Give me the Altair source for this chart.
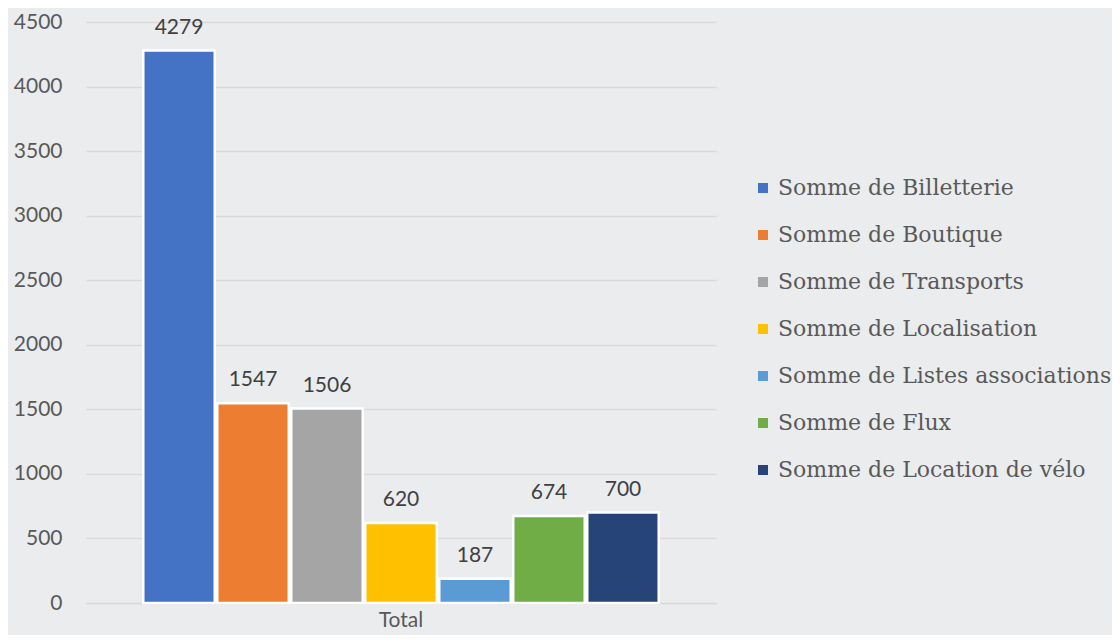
import altair as alt
import pandas as pd

categories = [
    "Somme de Billetterie",
    "Somme de Boutique",
    "Somme de Transports",
    "Somme de Localisation",
    "Somme de Listes associations",
    "Somme de Flux",
    "Somme de Location de vélo",
]
values = [4279, 1547, 1506, 620, 187, 674, 700]
colors = ["#4472C4", "#ED7D31", "#A5A5A5", "#FFC000", "#5B9BD5", "#70AD47", "#264478"]
group_label = "Total"
y_ticks = [0, 500, 1000, 1500, 2000, 2500, 3000, 3500, 4000, 4500]

df = pd.DataFrame({"groupe": [group_label] * len(categories), "serie": categories, "valeur": values})

base = alt.Chart(df).encode(
    x=alt.X(
        "groupe:N",
        title=None,
        scale=alt.Scale(paddingInner=0, paddingOuter=0),
        axis=alt.Axis(
            labelAngle=0,
            labelFont="Lato",
            labelFontSize=21,
            labelColor="#595959",
            labelPadding=6,
            ticks=False,
            tickSize=0,
            domainColor="#d9d9d9",
            domainWidth=1.5,
            grid=False,
        ),
    ),
    xOffset=alt.XOffset(
        "serie:N",
        sort=categories,
        scale=alt.Scale(paddingInner=0.034, paddingOuter=0.774),
    ),
    y=alt.Y(
        "valeur:Q",
        title=None,
        scale=alt.Scale(domain=[0, 4500], nice=False),
        axis=alt.Axis(
            values=y_ticks,
            format="d",
            labelFont="Lato",
            labelFontSize=21,
            labelColor="#595959",
            labelPadding=24,
            ticks=False,
            tickSize=0,
            domain=False,
            grid=True,
            gridColor="#d9d9d9",
            gridWidth=1.5,
        ),
    ),
)

bars = base.mark_bar(stroke="white", strokeWidth=2.5).encode(
    color=alt.Color(
        "serie:N",
        sort=categories,
        scale=alt.Scale(domain=categories, range=colors),
        legend=alt.Legend(
            title=None,
            orient="none",
            legendX=666,
            legendY=155,
            symbolType="square",
            symbolSize=100,
            symbolStrokeWidth=0,
            labelFont="DejaVu Serif",
            labelFontSize=22,
            labelColor="#595959",
            labelOffset=4,
            labelLimit=500,
            rowPadding=25,
            padding=0,
        ),
    )
)

labels = base.mark_text(
    dy=-17, baseline="alphabetic", font="Lato", fontSize=21, color="#404040"
).encode(text="valeur:Q")

chart = (
    alt.layer(bars, labels)
    .properties(
        width=630,
        height=581,
        background="#ebecee",
        padding={"left": 78, "top": 14, "right": 396, "bottom": 32},
        autosize=alt.AutoSizeParams(type="none"),
    )
    .configure_view(stroke=None)
)

chart.save("out.html", embed_options={"renderer": "svg", "actions": False})
